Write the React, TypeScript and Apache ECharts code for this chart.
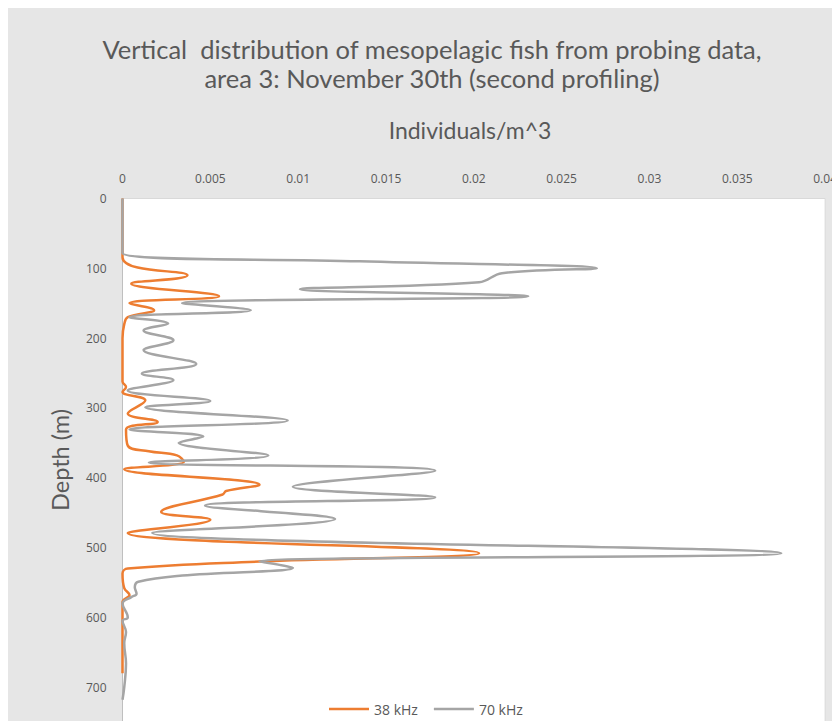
import React, { useEffect, useRef } from "react";
import * as echarts from "echarts";

// Depth (m) and density (individuals per m^3) for each echosounder frequency
const depth38 = [0, 84, 110, 122, 140, 150, 160, 170, 180, 200, 230, 262, 270, 277, 289, 308, 320, 331, 354, 362, 368, 377, 388, 410, 419, 424, 449, 460, 479, 508, 520, 530, 537, 558, 568, 578, 600, 640, 680];
const density38 = [0, 0, 0.0037, 0.0005, 0.0055, 0.0004, 0.0018, 0.0003, 0.0001, 0, 0, 0, 0.0002, 0, 0.0013, 0.0003, 0.002, 0.0002, 0.0003, 0.0015, 0.0031, 0.0035, 0.0001, 0.0078, 0.0059, 0.0057, 0.0022, 0.005, 0.0003, 0.0203, 0.0078, 0.0003, 0, 0.0001, 0.0004, 0, 0, 0, 0];

const depth70 = [0, 78, 90, 100, 107, 120, 130, 140, 150, 160, 170, 179, 189, 203, 217, 237, 251, 260, 275, 290, 299, 318, 331, 341, 350, 368, 378, 390, 413, 428, 440, 459, 479, 508, 520, 529, 540, 549, 557, 566, 571, 580, 600, 605, 621, 637, 666, 700, 718];
const density70 = [0, 0, 0.0135, 0.027, 0.0216, 0.0203, 0.0101, 0.0231, 0.0034, 0.0073, 0.0004, 0.0026, 0.0012, 0.0029, 0.0012, 0.0042, 0.0011, 0.0029, 0.0003, 0.005, 0.0013, 0.0094, 0.0004, 0.0046, 0.0032, 0.0083, 0.0015, 0.0178, 0.0097, 0.0178, 0.0047, 0.0121, 0.0017, 0.0375, 0.0078, 0.0097, 0.0034, 0.0009, 0.0007, 0.0008, 0.0005, 0, 0.0003, 0, 0.0002, 0.0001, 0.0002, 0.0001, 0];

const seriesNames = ["38 kHz", "70 kHz"];
const seriesColors = ["#ED7D31", "#A5A5A5"];

const titleLines = [
  "Vertical  distribution of mesopelagic fish from probing data,",
  "area 3: November 30th (second profiling)",
];
const xAxisTitle = "Individuals/m^3";
const yAxisTitle = "Depth (m)";

const TEXT = "#595959";
const TITLE_FONT = "Lato, 'Open Sans', sans-serif";
const LABEL_FONT = "'Open Sans', 'Noto Sans', sans-serif";

function pairs(depths: number[], values: number[]) {
  return depths.map((d, i) => [values[i], d]);
}

export default function App() {
  const ref = useRef<HTMLDivElement>(null);

  useEffect(() => {
    if (!ref.current) return;
    const chart = echarts.init(ref.current, undefined, { renderer: "svg" });
    chart.setOption({
      animation: false,
      backgroundColor: "#e6e6e6",
      grid: {
        left: 114.5,
        top: 190.5,
        right: 14.5,
        bottom: 11,
        show: true,
        backgroundColor: "#ffffff",
        borderColor: "#d9d9d9",
        borderWidth: 1,
      },
      xAxis: {
        type: "value",
        position: "top",
        min: 0,
        max: 0.04,
        interval: 0.005,
        axisLine: { show: false },
        axisTick: { show: false },
        splitLine: { show: false },
        axisLabel: {
          color: TEXT,
          fontFamily: LABEL_FONT,
          fontSize: 12,
          margin: 14,
          formatter: (v: number) => String(Number(v.toFixed(3))),
        },
      },
      yAxis: {
        type: "value",
        inverse: true,
        min: 0,
        max: 800,
        interval: 100,
        axisLine: { show: true, onZero: false, lineStyle: { color: "#bfbfbf", width: 1 } },
        axisTick: { show: false },
        splitLine: { show: false },
        axisLabel: {
          color: TEXT,
          fontFamily: LABEL_FONT,
          fontSize: 12,
          margin: 16,
          showMaxLabel: false,
        },
      },
      legend: {
        data: seriesNames.map((name) => ({ name, icon: "rect" })),
        left: 316,
        top: 689,
        itemWidth: 40,
        itemHeight: 2.5,
        itemGap: 16,
        textStyle: { color: TEXT, fontFamily: LABEL_FONT, fontSize: 14 },
      },
      graphic: [
        {
          type: "text",
          x: 424,
          y: 41,
          style: {
            text: titleLines[0],
            fill: TEXT,
            font: `25.5px ${TITLE_FONT}`,
            textAlign: "center",
            textVerticalAlign: "middle",
          },
        },
        {
          type: "text",
          x: 424,
          y: 70,
          style: {
            text: titleLines[1],
            fill: TEXT,
            font: `25.5px ${TITLE_FONT}`,
            textAlign: "center",
            textVerticalAlign: "middle",
          },
        },
        {
          type: "text",
          x: 462,
          y: 122,
          style: {
            text: xAxisTitle,
            fill: TEXT,
            font: `23px ${TITLE_FONT}`,
            textAlign: "center",
            textVerticalAlign: "middle",
          },
        },
        {
          type: "text",
          x: 52,
          y: 452,
          rotation: Math.PI / 2,
          style: {
            text: yAxisTitle,
            fill: TEXT,
            font: `23.5px ${TITLE_FONT}`,
            textAlign: "center",
            textVerticalAlign: "middle",
          },
        },
      ],
      series: [
        {
          name: seriesNames[0],
          type: "line",
          data: pairs(depth38, density38),
          smooth: 0.4,
          symbol: "none",
          lineStyle: { color: seriesColors[0], width: 2.5 },
          itemStyle: { color: seriesColors[0] },
        },
        {
          name: seriesNames[1],
          type: "line",
          data: pairs(depth70, density70),
          smooth: 0.4,
          symbol: "none",
          lineStyle: { color: seriesColors[1], width: 2.5 },
          itemStyle: { color: seriesColors[1] },
        },
      ],
    });
    return () => chart.dispose();
  }, []);

  // The chart is taller than the visible frame so the depth axis runs past its lower edge
  return (
    <div style={{ width: 832, height: 713, overflow: "hidden" }}>
      <div ref={ref} style={{ width: 832, height: 760 }} />
    </div>
  );
}
